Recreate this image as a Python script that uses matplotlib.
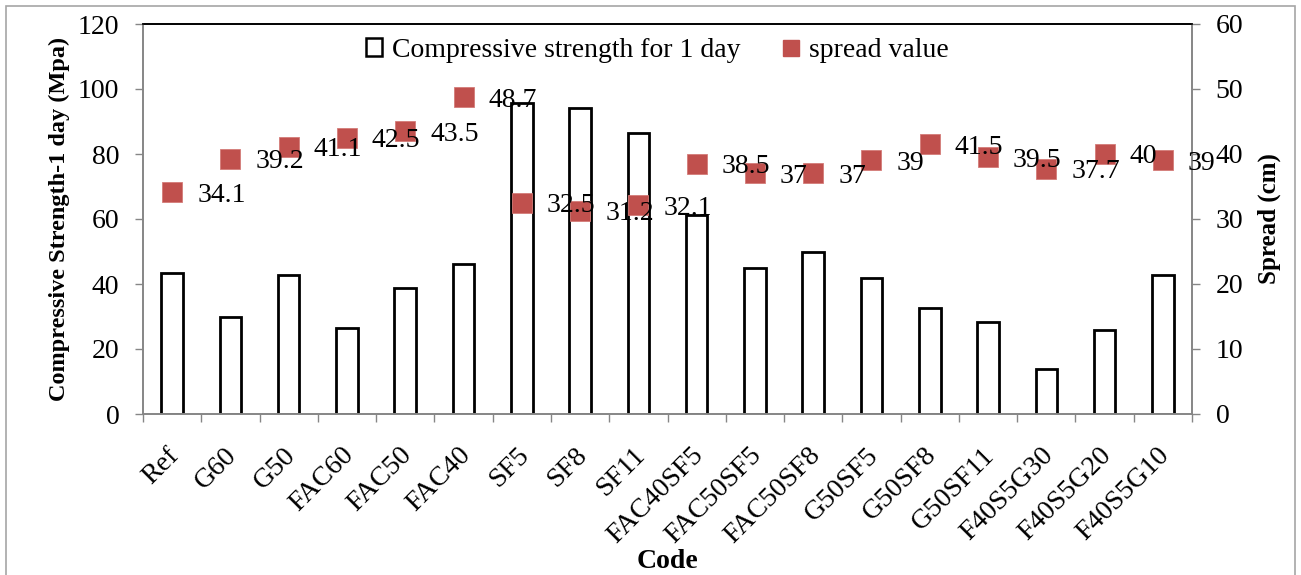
import matplotlib
matplotlib.use("Agg")
import matplotlib.pyplot as plt
from matplotlib.patches import Patch, Rectangle
from matplotlib.lines import Line2D
import matplotlib.transforms as mtransforms
import numpy as np

plt.rcParams['font.family'] = ['Liberation Serif', 'DejaVu Serif']

# mix codes and results
codes = ['Ref', 'G60', 'G50', 'FAC60', 'FAC50', 'FAC40', 'SF5', 'SF8', 'SF11',
         'FAC40SF5', 'FAC50SF5', 'FAC50SF8', 'G50SF5', 'G50SF8', 'G50SF11',
         'F40S5G30', 'F40S5G20', 'F40S5G10']
strength_1d = [43.5, 29.8, 42.8, 26.4, 38.7, 46.1, 95.6, 94.1, 86.4,
               61.2, 44.8, 49.9, 41.7, 32.5, 28.4, 13.8, 25.8, 42.7]
spread = [34.1, 39.2, 41.1, 42.5, 43.5, 48.7, 32.5, 31.2, 32.1,
          38.5, 37, 37, 39, 41.5, 39.5, 37.7, 40, 39]

left_ticks = [0, 20, 40, 60, 80, 100, 120]
right_ticks = [0, 10, 20, 30, 40, 50, 60]

RED = '#C0504D'
GREY = '#868686'
FS = 20

fig = plt.figure(figsize=(13.01, 5.75), dpi=100)
ax = fig.add_axes([143 / 1301, 1 - 414 / 575, (1192 - 143) / 1301, 390 / 575])

x = np.arange(len(codes))

# bars: 1-day compressive strength (left axis)
ax.bar(x, strength_1d, width=0.37, facecolor='white', edgecolor='black',
       linewidth=2.0, zorder=2)

ax.set_xlim(-0.5, len(codes) - 0.5)
ax.set_ylim(0, 120)
ax.set_yticks(left_ticks)
ax.set_xticks(x)
ax.set_xticklabels(codes, rotation=45, ha='right', va='center',
                   rotation_mode='anchor', fontsize=FS)
ax.set_xticks(np.arange(len(codes) + 1) - 0.5, minor=True)
ax.tick_params(axis='x', which='major', length=0, pad=27)
ax.tick_params(axis='x', which='minor', length=6, width=1, color=GREY, direction='out')
ax.tick_params(axis='y', length=6, width=1, color=GREY, direction='out',
               labelsize=FS, pad=11)

# shift rotated tick labels a bit to the right
shift = mtransforms.ScaledTranslation(3 / 100, 0, fig.dpi_scale_trans)
for lab in ax.get_xticklabels():
    lab.set_transform(lab.get_transform() + shift)

for side in ['left', 'bottom', 'right']:
    ax.spines[side].set_color(GREY)
    ax.spines[side].set_linewidth(1.2)
ax.spines['top'].set_color('black')
ax.spines['top'].set_linewidth(1.2)

ax.set_ylabel('Compressive Strength-1 day (Mpa)', fontsize=17.5, fontweight='bold',
              labelpad=6)
ax.set_xlabel('Code', fontsize=20, fontweight='bold')
ax.xaxis.set_label_coords(0.5, -0.377)
ax.xaxis.label.set_va('center')

# markers: spread value (right axis)
ax2 = ax.twinx()
ax2.plot(x, spread, linestyle='none', marker='s', markersize=14.5,
         color=RED, markeredgecolor='#D47B78', markeredgewidth=0.6, zorder=3)
for xi, v in zip(x, spread):
    ax2.annotate('{:g}'.format(v), (xi, v), xytext=(18, -2),
                 textcoords='offset points', ha='left', va='center',
                 fontsize=FS, zorder=5, annotation_clip=False)

ax2.set_ylim(0, 60)
ax2.set_yticks(right_ticks)
ax2.tick_params(axis='y', length=6, width=1, color=GREY, direction='out',
                labelsize=FS, pad=11)
for side in ['left', 'bottom', 'right']:
    ax2.spines[side].set_color(GREY)
    ax2.spines[side].set_linewidth(1.2)
ax2.spines['top'].set_color('black')
ax2.spines['top'].set_linewidth(1.2)
ax2.set_ylabel('Spread (cm)', fontsize=18, fontweight='bold', labelpad=10)

handles = [
    Patch(facecolor='white', edgecolor='black', linewidth=1.8),
    Line2D([], [], linestyle='none', marker='s', markersize=11, color=RED),
]
ax2.legend(handles, ['Compressive strength for 1 day', 'spread value'],
           loc='upper center', bbox_to_anchor=(0.49, 1.0), ncol=2, frameon=False,
           fontsize=FS, handlelength=0.6, handleheight=0.6, handletextpad=0.35,
           columnspacing=1.5, borderaxespad=0.1)

# chart area border
fig.patches.append(Rectangle((6 / 1301, -0.1), (1295 - 6) / 1301, 1.1 - 6 / 575,
                             transform=fig.transFigure, fill=False,
                             edgecolor='#A6A6A6', linewidth=1.2))

fig.savefig('out.png', dpi=100)
